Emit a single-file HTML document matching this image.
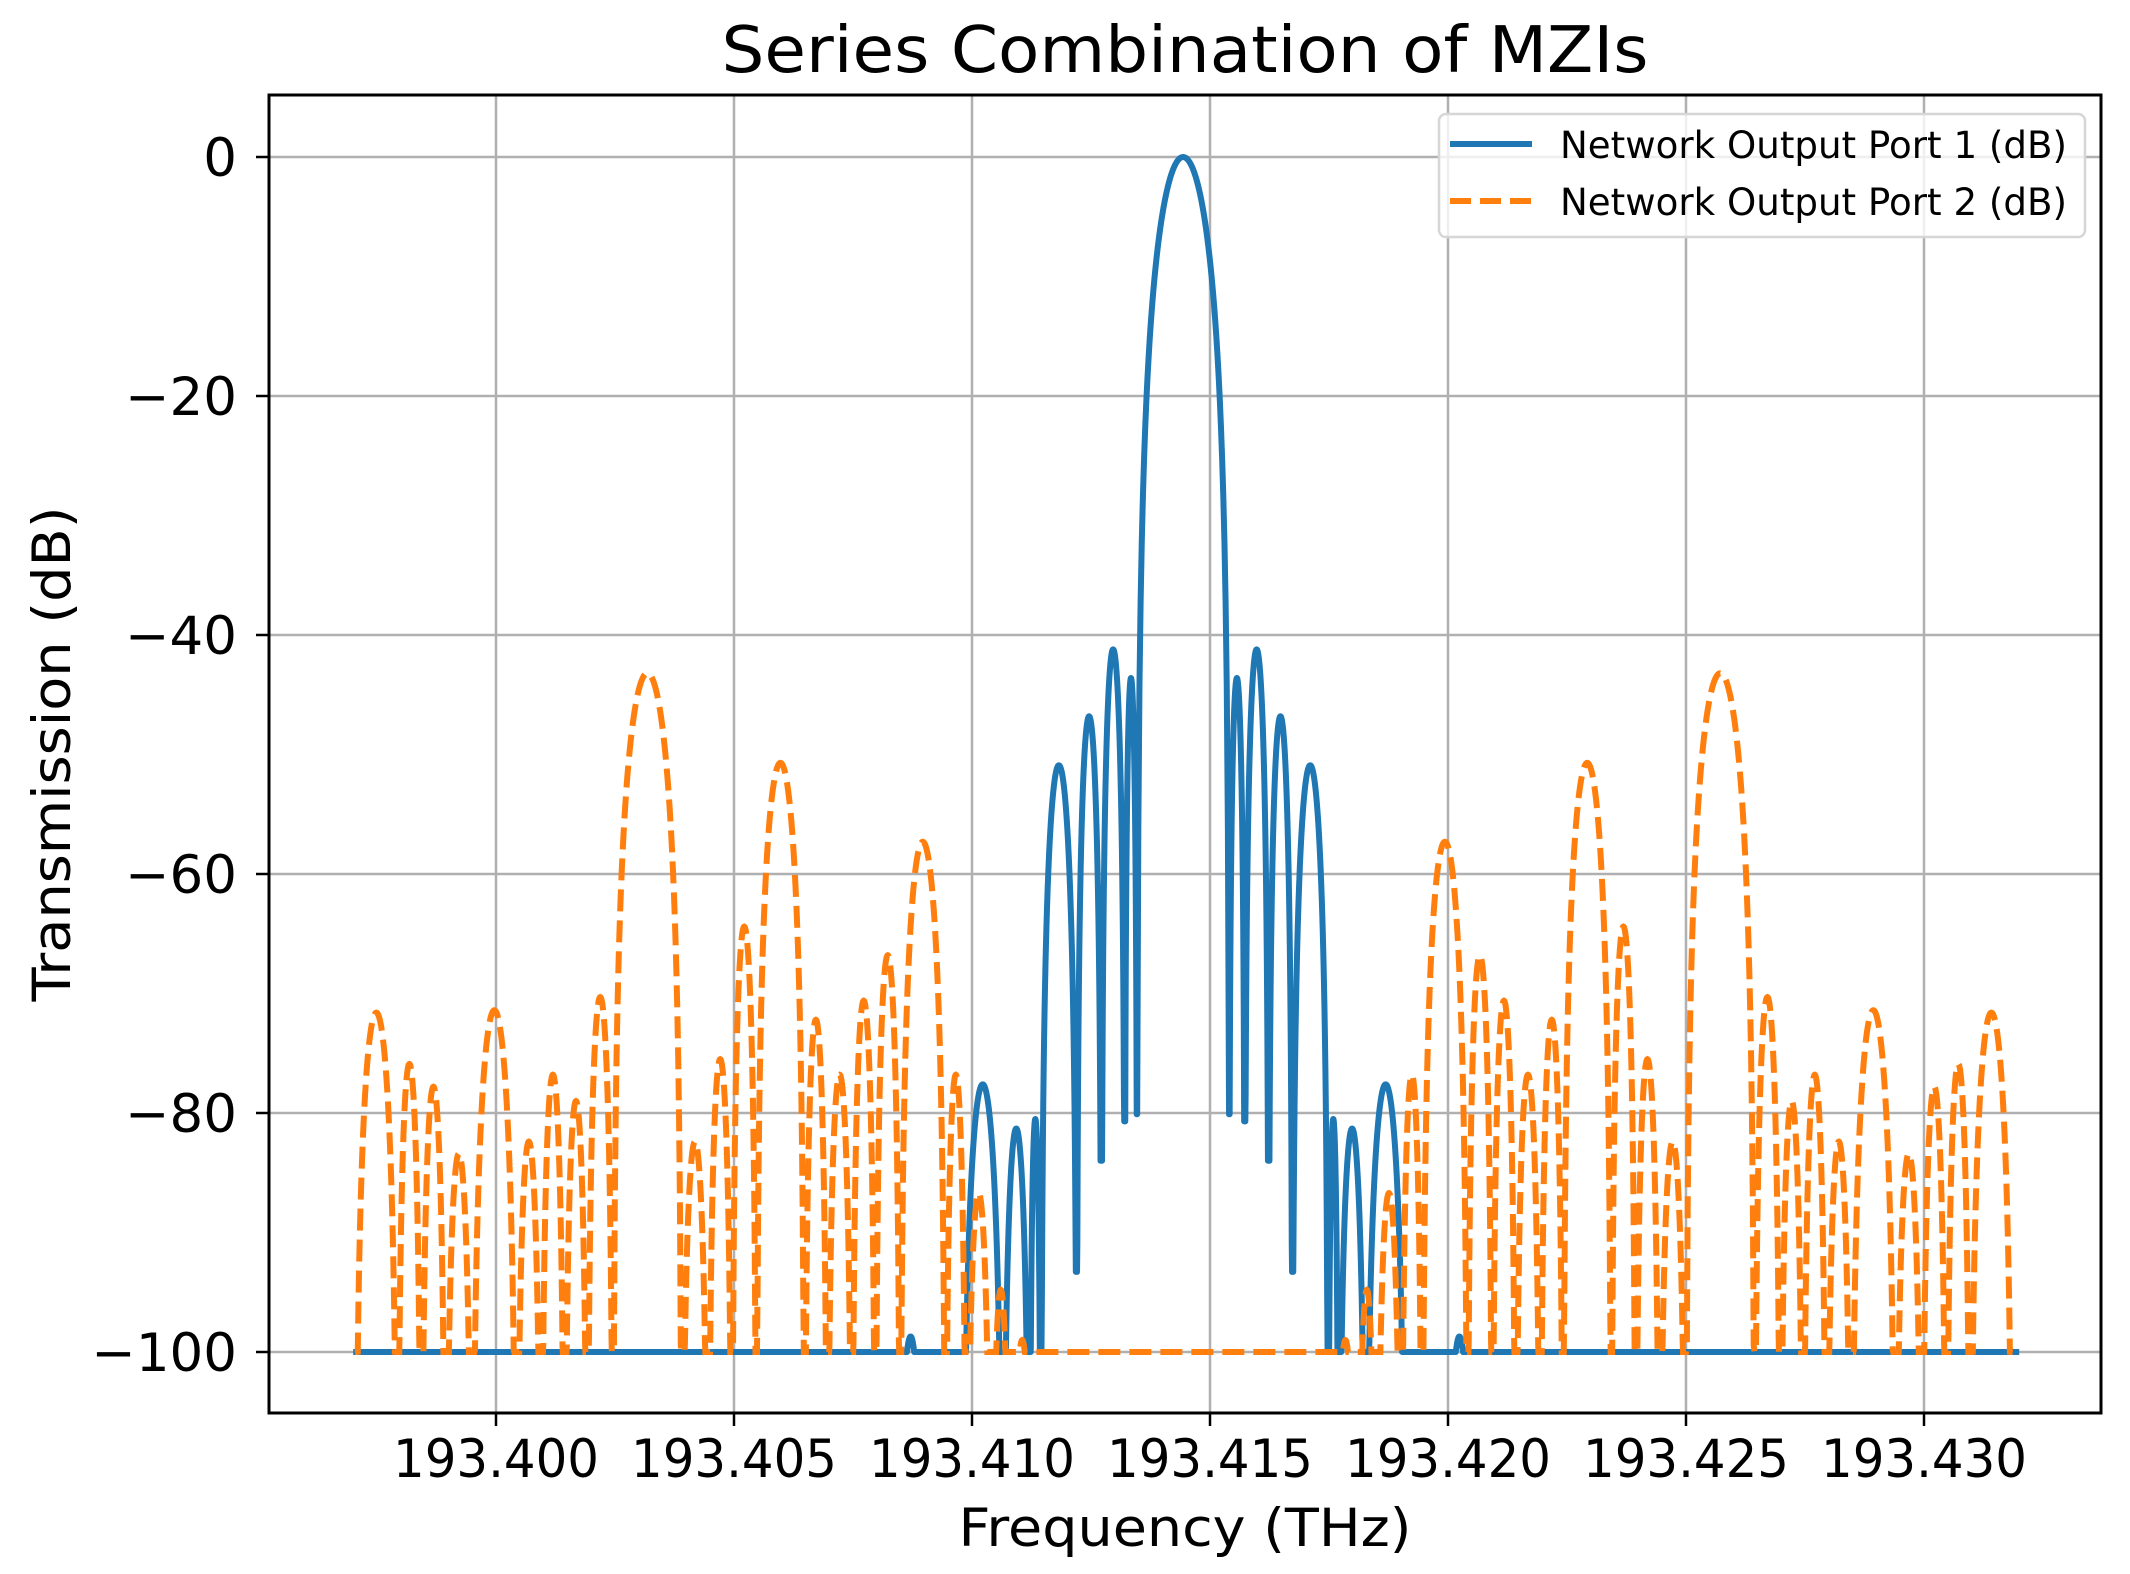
<!DOCTYPE html>
<html><head><meta charset="utf-8"><title>Series Combination of MZIs</title>
<style>
html,body{margin:0;padding:0;background:#fff;}
svg{display:block;font-family:"DejaVu Sans","Liberation Sans",sans-serif;}
</style></head>
<body>
<svg id="chart" width="2130" height="1574" viewBox="0 0 2130 1574" xmlns="http://www.w3.org/2000/svg">
  <rect x="0" y="0" width="2130" height="1574" fill="#fff"/>
  <g id="grid"></g>
  <g id="series"></g>
  <rect x="269" y="95" width="1832" height="1318" fill="none" stroke="#000" stroke-width="3"/>
  <g id="ticks"></g>
  <text x="1185" y="72" font-size="64" text-anchor="middle" textLength="927" lengthAdjust="spacingAndGlyphs">Series Combination of MZIs</text>
  <text x="1185" y="1546" font-size="53" text-anchor="middle" textLength="453" lengthAdjust="spacingAndGlyphs">Frequency (THz)</text>
  <text transform="translate(70,754) rotate(-90)" font-size="53" text-anchor="middle" textLength="495" lengthAdjust="spacingAndGlyphs">Transmission (dB)</text>
  <g>
    <rect x="1439" y="114" width="646" height="123" rx="7" fill="#fff" fill-opacity="0.8" stroke="#d6d6d6" stroke-width="2.5"/>
    <line x1="1450" y1="144" x2="1532" y2="144" stroke="#1f77b4" stroke-width="6"/>
    <text x="1560" y="158" font-size="37" textLength="507" lengthAdjust="spacingAndGlyphs">Network Output Port 1 (dB)</text>
    <line x1="1450" y1="201" x2="1532" y2="201" stroke="#ff7f0e" stroke-width="6" stroke-dasharray="21,9"/>
    <text x="1560" y="215" font-size="37" textLength="507" lengthAdjust="spacingAndGlyphs">Network Output Port 2 (dB)</text>
  </g>
</svg>
<script>
// ---- data (lobes between null frequencies, THz / dB) ----
const xTicks = [193.400, 193.405, 193.410, 193.415, 193.420, 193.425, 193.430];
const xTickLabels = ["193.400","193.405","193.410","193.415","193.420","193.425","193.430"];
const yTicks = [0, -20, -40, -60, -80, -100];
const yTickLabels = ["0","\u221220","\u221240","\u221260","\u221280","\u2212100"];

const port1Nulls = [193.3970,193.40840,193.40902,193.40980,193.41065,193.41121,193.41145,193.41220,193.41272,193.41321,193.41347,193.41540,193.41573,193.41623,193.41673,193.41748,193.41770,193.41827,193.41911,193.41993,193.42055,193.4320];
const port1NullDepths = [-100,-100,-100,-100,-100,-100,-100,-93.3,-84,-80.7,-80.1,-80.1,-80.7,-84,-93.3,-100,-100,-100,-100,-100,-100,-100];
const port1Peaks = [-100,-98.7,-100,-77.6,-81.3,-80.5,-50.9,-46.8,-41.2,-43.6,0,-43.6,-41.2,-46.8,-50.9,-80.5,-81.3,-77.6,-100,-98.7,-100];

const port2Nulls = [193.39704,193.39793,193.39843,193.39894,193.39950,193.40043,193.40095,193.40144,193.40192,193.40246,193.40390,193.40446,193.40496,193.40547,193.40648,193.40696,193.40748,193.40797,193.40849,193.40944,193.40988,193.41040,193.41081,193.41130,
  193.41760,193.41809,193.41850,193.41902,193.41946,193.42041,193.42093,193.42142,193.42194,193.42242,193.42343,193.42394,193.42444,193.42500,193.42644,193.42698,193.42746,193.42795,193.42847,193.42940,193.42996,193.43047,193.43097,193.43186];
const port2Peaks = [-71.6,-75.9,-77.8,-83.4,-71.4,-82.4,-76.8,-79,-70.3,-43.2,-82.4,-75.5,-64.4,-50.7,-72.2,-76.8,-70.6,-66.8,-57.3,-76.8,-86.7,-94.8,-99,
  -100,
  -99,-94.8,-86.7,-76.8,-57.3,-66.8,-70.6,-76.8,-72.2,-50.7,-64.4,-75.5,-82.4,-43.2,-70.3,-79,-76.8,-82.4,-71.4,-83.4,-77.8,-75.9,-71.6];

// ---- axes ----
const NS = "http://www.w3.org/2000/svg";
const X0 = 269, X1 = 2101, Y0 = 95, Y1 = 1413;
function xScale(f){ return 496 + (f - 193.400) * 47600; }
function yScale(v){ return 157 - v * 11.95; }

const grid = document.getElementById('grid');
const ticks = document.getElementById('ticks');
xTicks.forEach((t, i) => {
  const x = xScale(t);
  const g = document.createElementNS(NS, 'line');
  g.setAttribute('x1', x); g.setAttribute('x2', x); g.setAttribute('y1', Y0); g.setAttribute('y2', Y1);
  g.setAttribute('stroke', '#b0b0b0'); g.setAttribute('stroke-width', '2.5');
  
  
  grid.appendChild(g);
  const tk = document.createElementNS(NS, 'line');
  tk.setAttribute('x1', x); tk.setAttribute('x2', x); tk.setAttribute('y1', Y1); tk.setAttribute('y2', Y1 + 13);
  tk.setAttribute('stroke', '#000'); tk.setAttribute('stroke-width', '2.5');
  
  
  ticks.appendChild(tk);
  const lb = document.createElementNS(NS, 'text');
  lb.setAttribute('x', x); lb.setAttribute('y', 1477);
  lb.setAttribute('font-size', '53'); lb.setAttribute('text-anchor', 'middle');
  lb.setAttribute('textLength', '206'); lb.setAttribute('lengthAdjust', 'spacingAndGlyphs');
  lb.textContent = xTickLabels[i];
  
  
  ticks.appendChild(lb);
});
yTicks.forEach((t, i) => {
  const y = yScale(t);
  const g = document.createElementNS(NS, 'line');
  g.setAttribute('x1', X0); g.setAttribute('x2', X1); g.setAttribute('y1', y); g.setAttribute('y2', y);
  g.setAttribute('stroke', '#b0b0b0'); g.setAttribute('stroke-width', '2.5');
  
  
  grid.appendChild(g);
  const tk = document.createElementNS(NS, 'line');
  tk.setAttribute('x1', X0 - 13); tk.setAttribute('x2', X0); tk.setAttribute('y1', y); tk.setAttribute('y2', y);
  tk.setAttribute('stroke', '#000'); tk.setAttribute('stroke-width', '2.5');
  
  
  ticks.appendChild(tk);
  const lb = document.createElementNS(NS, 'text');
  lb.setAttribute('x', 237); lb.setAttribute('y', y + 19);
  lb.setAttribute('font-size', '53'); lb.setAttribute('text-anchor', 'end');
  lb.textContent = yTickLabels[i];
  
  
  ticks.appendChild(lb);
});

// ---- series ----
function buildPath(nulls, peaks, depths){
  const pts = [];
  for (let i = 0; i < peaks.length; i++){
    const a = nulls[i], b = nulls[i+1], p = peaks[i];
    const da = depths ? depths[i] : -100, db = depths ? depths[i+1] : -100;
    const c = (a + b) / 2, h = (b - a) / 2;
    const N = p <= -100 ? 1 : 80;
    for (let k = 0; k <= N; k++){
      const t = -1 + 2 * k / N;
      const cs = Math.abs(Math.cos(Math.PI * t / 2));
      let v = cs < 1e-9 ? -1000 : p + 40 * Math.log10(cs);
      const floor = t < 0 ? da : db;
      if (v < floor) v = floor;
      if (v < -100) v = -100;
      pts.push([xScale(c + t * h), yScale(v)]);
    }
  }
  return 'M' + pts.map(q => q[0].toFixed(2) + ',' + q[1].toFixed(2)).join('L');
}
const series = document.getElementById('series');
const p1 = document.createElementNS(NS, 'path');
p1.setAttribute('d', buildPath(port1Nulls, port1Peaks, port1NullDepths));
p1.setAttribute('fill', 'none'); p1.setAttribute('stroke', '#1f77b4'); p1.setAttribute('stroke-width', '6');
p1.setAttribute('stroke-linejoin', 'round');


series.appendChild(p1);
const p2 = document.createElementNS(NS, 'path');
p2.setAttribute('d', buildPath(port2Nulls, port2Peaks, null));
p2.setAttribute('fill', 'none'); p2.setAttribute('stroke', '#ff7f0e'); p2.setAttribute('stroke-width', '6');
p2.setAttribute('stroke-dasharray', '22,9');


series.appendChild(p2);
</script>
</body></html>
